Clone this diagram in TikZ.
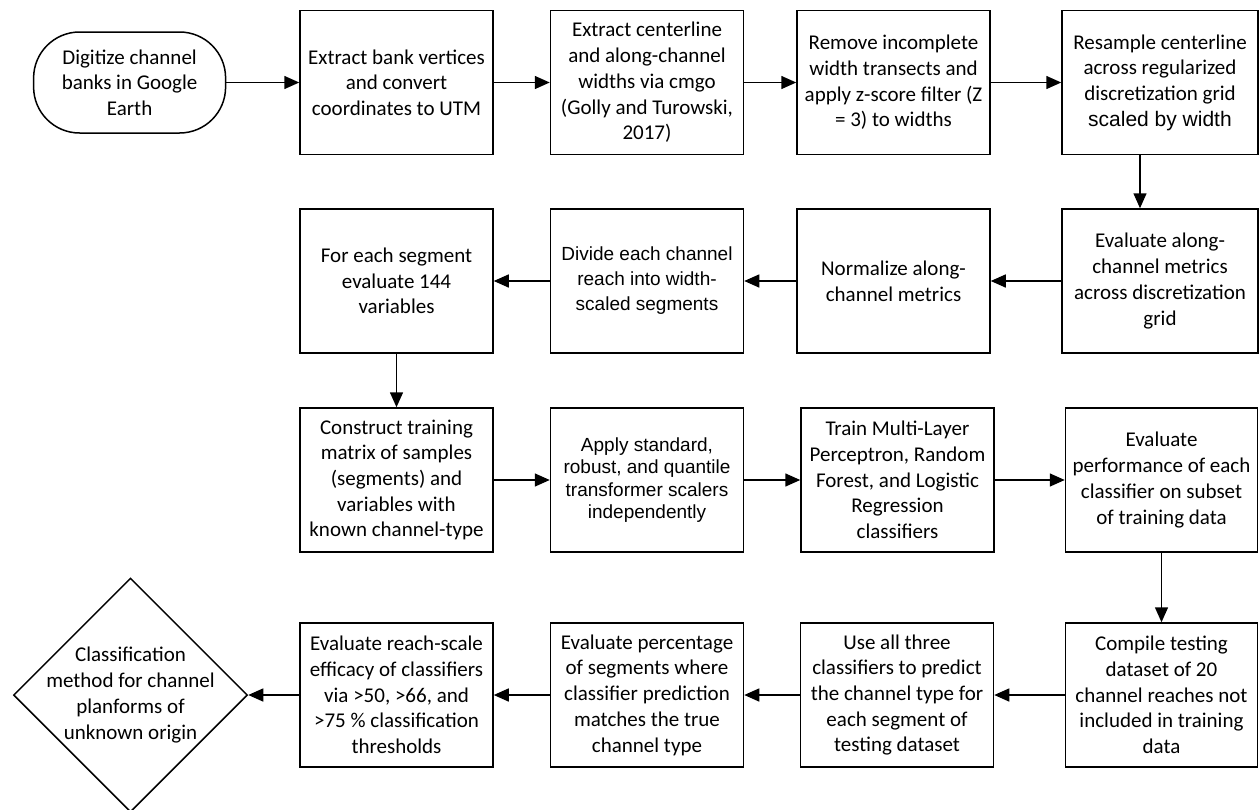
\documentclass[tikz,border=0pt]{standalone}
\usepackage{fontspec}
\setmainfont{Carlito}
\newfontfamily\arialf{Liberation Sans}
\usetikzlibrary{arrows.meta,shapes.geometric}
\begin{document}
\begin{tikzpicture}[x=1pt,y=-1pt,
  box/.style={draw, line width=1.5pt, inner sep=0pt, minimum width=193pt,
    minimum height=144pt, align=center, font=\fontsize{21}{25.7}\selectfont},
  wbox/.style={box, minimum width=196pt},
  sansbox/.style={box, font=\arialf\fontsize{19}{24}\selectfont},
  termbox/.style={draw, line width=1.5pt, inner sep=0pt, minimum width=192pt,
    minimum height=101pt, rounded corners=46pt, align=center,
    font=\fontsize{21}{25.7}\selectfont},
  arr/.style={line width=1.5pt, -{Triangle[length=15pt,width=13pt]}},
]
\useasboundingbox (0,0) rectangle (1259,809);

% Row 1
\node[termbox] (term) at (129.6,82.5) {Digitize channel\\banks in Google\\Earth};
\node[box] (a1) at (396.5,82.5) {Extract bank vertices\\and convert\\coordinates to UTM};
\node[box] (a2) at (647,82.5) {Extract centerline\\and along-channel\\widths via cmgo\\(Golly and Turowski,\\2017)};
\node[box] (a3) at (893.5,82.5) {Remove incomplete\\width transects and\\apply z-score filter (Z\\= 3) to widths};
\node[wbox] (a4) at (1160,82.5) {Resample centerline\\across regularized\\discretization grid\\{\arialf\fontsize{21}{25.7}\selectfont scaled by width}};

% Row 2
\node[wbox] (b4) at (1160,281) {Evaluate along-\\channel metrics\\across discretization\\grid};
\node[box] (b3) at (893.5,281) {Normalize along-\\channel metrics};
\node[sansbox, font=\arialf\fontsize{19}{25}\selectfont] (b2) at (647,281) {Divide each channel\\reach into width-\\scaled segments};
\node[box] (b1) at (396.5,281) {For each segment\\evaluate 144\\variables};

% Row 3
\node[box] (c1) at (396.5,480) {Construct training\\matrix of samples\\(segments) and\\variables with\\known channel-type};
\node[sansbox, font=\arialf\fontsize{19}{22.5}\selectfont] (c2) at (647,480) {Apply standard,\\robust, and quantile\\transformer scalers\\independently};
\node[box] (c3) at (897.5,480) {Train Multi-Layer\\Perceptron, Random\\Forest, and Logistic\\Regression\\classifiers};
\node[box, minimum width=192pt] (c4) at (1161.5,480) {Evaluate\\performance of each\\classifier on subset\\of training data};

% Row 4
\node[box, minimum width=192pt] (d4) at (1161.5,695) {Compile testing\\dataset of 20\\channel reaches not\\included in training\\data};
\node[box] (d3) at (897,695) {Use all three\\classifiers to predict\\the channel type for\\each segment of\\testing dataset};
\node[box] (d2) at (647,695) {Evaluate percentage\\of segments where\\classifier prediction\\matches the true\\channel type};
\node[box] (d1) at (396.5,695) {Evaluate reach-scale\\efficacy of classifiers\\via >50, >66, and\\>75 \% classification\\thresholds};
\node[draw, diamond, aspect=1, line width=1.5pt, inner sep=0pt,
  minimum width=234pt, minimum height=234pt] (dia) at (130.5,695) {};
\node[align=center, inner sep=0pt, font=\fontsize{21}{25.7}\selectfont] (diat) at (dia.center)
  {Classification\\method for channel\\planforms of\\unknown origin};

% Connectors
\draw[arr] (term.east) -- (a1.west);
\draw[arr] (a1.east) -- (a2.west);
\draw[arr] (a2.east) -- (a3.west);
\draw[arr] (a3.east) -- (a4.west);
\draw[arr] ([xshift=-20pt]a4.south) -- ([xshift=-20pt]b4.north);
\draw[arr] (b4.west) -- (b3.east);
\draw[arr] (b3.west) -- (b2.east);
\draw[arr] (b2.west) -- (b1.east);
\draw[arr] (b1.south) -- (c1.north);
\draw[arr] (c1.east) -- (c2.west);
\draw[arr] (c2.east) -- (c3.west);
\draw[arr] (c3.east) -- (c4.west);
\draw[arr] (c4.south) -- (d4.north);
\draw[arr] (d4.west) -- (d3.east);
\draw[arr] (d3.west) -- (d2.east);
\draw[arr] (d2.west) -- (d1.east);
\draw[arr] (d1.west) -- (dia.east);
\end{tikzpicture}
\end{document}
